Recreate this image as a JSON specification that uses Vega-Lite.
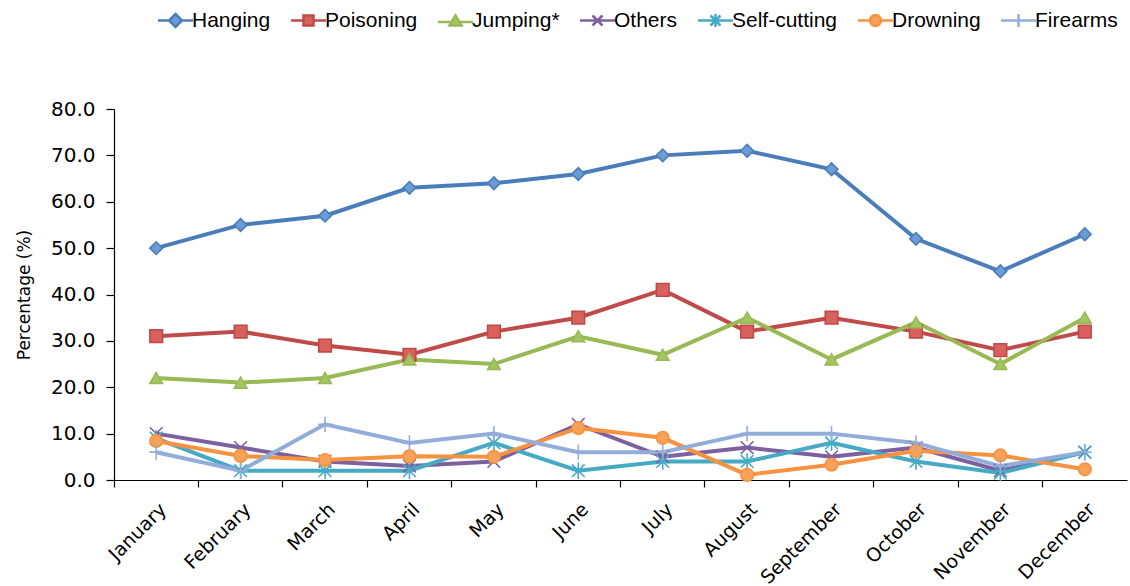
{
  "$schema": "https://vega.github.io/schema/vega-lite/v6.json",
  "width": 1013,
  "height": 371,
  "padding": {"left": 15, "top": 10, "right": 2, "bottom": 0},
  "background": "white",
  "config": {"view": {"stroke": null}, "font": "DejaVu Sans"},
  "data": {"values": [
    {"month": "January", "series": "Hanging", "value": 50},
    {"month": "February", "series": "Hanging", "value": 55},
    {"month": "March", "series": "Hanging", "value": 57},
    {"month": "April", "series": "Hanging", "value": 63},
    {"month": "May", "series": "Hanging", "value": 64},
    {"month": "June", "series": "Hanging", "value": 66},
    {"month": "July", "series": "Hanging", "value": 70},
    {"month": "August", "series": "Hanging", "value": 71},
    {"month": "September", "series": "Hanging", "value": 67},
    {"month": "October", "series": "Hanging", "value": 52},
    {"month": "November", "series": "Hanging", "value": 45},
    {"month": "December", "series": "Hanging", "value": 53},
    {"month": "January", "series": "Poisoning", "value": 31},
    {"month": "February", "series": "Poisoning", "value": 32},
    {"month": "March", "series": "Poisoning", "value": 29},
    {"month": "April", "series": "Poisoning", "value": 27},
    {"month": "May", "series": "Poisoning", "value": 32},
    {"month": "June", "series": "Poisoning", "value": 35},
    {"month": "July", "series": "Poisoning", "value": 41},
    {"month": "August", "series": "Poisoning", "value": 32},
    {"month": "September", "series": "Poisoning", "value": 35},
    {"month": "October", "series": "Poisoning", "value": 32},
    {"month": "November", "series": "Poisoning", "value": 28},
    {"month": "December", "series": "Poisoning", "value": 32},
    {"month": "January", "series": "Jumping*", "value": 22},
    {"month": "February", "series": "Jumping*", "value": 21},
    {"month": "March", "series": "Jumping*", "value": 22},
    {"month": "April", "series": "Jumping*", "value": 26},
    {"month": "May", "series": "Jumping*", "value": 25},
    {"month": "June", "series": "Jumping*", "value": 31},
    {"month": "July", "series": "Jumping*", "value": 27},
    {"month": "August", "series": "Jumping*", "value": 35},
    {"month": "September", "series": "Jumping*", "value": 26},
    {"month": "October", "series": "Jumping*", "value": 34},
    {"month": "November", "series": "Jumping*", "value": 25},
    {"month": "December", "series": "Jumping*", "value": 35},
    {"month": "January", "series": "Others", "value": 10},
    {"month": "February", "series": "Others", "value": 7},
    {"month": "March", "series": "Others", "value": 4},
    {"month": "April", "series": "Others", "value": 3},
    {"month": "May", "series": "Others", "value": 4},
    {"month": "June", "series": "Others", "value": 12},
    {"month": "July", "series": "Others", "value": 5},
    {"month": "August", "series": "Others", "value": 7},
    {"month": "September", "series": "Others", "value": 5},
    {"month": "October", "series": "Others", "value": 7},
    {"month": "November", "series": "Others", "value": 2},
    {"month": "December", "series": "Others", "value": 6},
    {"month": "January", "series": "Self-cutting", "value": 9},
    {"month": "February", "series": "Self-cutting", "value": 2},
    {"month": "March", "series": "Self-cutting", "value": 2},
    {"month": "April", "series": "Self-cutting", "value": 2},
    {"month": "May", "series": "Self-cutting", "value": 8},
    {"month": "June", "series": "Self-cutting", "value": 2},
    {"month": "July", "series": "Self-cutting", "value": 4},
    {"month": "August", "series": "Self-cutting", "value": 4},
    {"month": "September", "series": "Self-cutting", "value": 8},
    {"month": "October", "series": "Self-cutting", "value": 4},
    {"month": "November", "series": "Self-cutting", "value": 1.5},
    {"month": "December", "series": "Self-cutting", "value": 6},
    {"month": "January", "series": "Drowning", "value": 8.4},
    {"month": "February", "series": "Drowning", "value": 5.2},
    {"month": "March", "series": "Drowning", "value": 4.3},
    {"month": "April", "series": "Drowning", "value": 5.1},
    {"month": "May", "series": "Drowning", "value": 5},
    {"month": "June", "series": "Drowning", "value": 11.2},
    {"month": "July", "series": "Drowning", "value": 9.1},
    {"month": "August", "series": "Drowning", "value": 1.1},
    {"month": "September", "series": "Drowning", "value": 3.3},
    {"month": "October", "series": "Drowning", "value": 6.3},
    {"month": "November", "series": "Drowning", "value": 5.3},
    {"month": "December", "series": "Drowning", "value": 2.3},
    {"month": "January", "series": "Firearms", "value": 6},
    {"month": "February", "series": "Firearms", "value": 2},
    {"month": "March", "series": "Firearms", "value": 12},
    {"month": "April", "series": "Firearms", "value": 8},
    {"month": "May", "series": "Firearms", "value": 10},
    {"month": "June", "series": "Firearms", "value": 6},
    {"month": "July", "series": "Firearms", "value": 6},
    {"month": "August", "series": "Firearms", "value": 10},
    {"month": "September", "series": "Firearms", "value": 10},
    {"month": "October", "series": "Firearms", "value": 8},
    {"month": "November", "series": "Firearms", "value": 3},
    {"month": "December", "series": "Firearms", "value": 6}
  ]},
  "encoding": {
    "x": {
      "field": "month", "type": "nominal",
      "sort": ["January","February","March","April","May","June","July","August","September","October","November","December"],
      "scale": {"type": "band", "paddingInner": 0, "paddingOuter": 0},
      "axis": {
        "title": null, "labelAngle": -45, "labelAlign": "right", "labelBaseline": "middle",
        "labelFontSize": 19, "labelColor": "black", "labelPadding": 19,
        "bandPosition": 0, "tickColor": "black", "domainColor": "black",
        "tickSize": 7, "domainWidth": 1.2, "tickWidth": 1.2, "labelOffset": 7
      }
    },
    "y": {
      "field": "value", "type": "quantitative",
      "scale": {"domain": [0, 80], "nice": false},
      "axis": {
        "title": "Percentage (%)", "titleFontSize": 17, "titleFontWeight": "normal", "titleColor": "black",
        "titlePadding": 17, "format": ".1f", "values": [0,10,20,30,40,50,60,70,80],
        "labelFontSize": 20, "labelColor": "black", "grid": false,
        "tickColor": "black", "domainColor": "black", "tickSize": 8, "labelPadding": 11,
        "domainWidth": 1.2, "tickWidth": 1.2
      }
    }
  },
  "resolve": {
    "scale": {"shape": "independent"},
    "legend": {"stroke": "independent", "fill": "independent", "shape": "independent"}
  },
  "layer": [
    {
      "mark": {"type": "line", "strokeWidth": 4},
      "encoding": {
        "stroke": {
          "field": "series", "type": "nominal",
          "scale": {
            "domain": ["Hanging","Poisoning","Jumping*","Others","Self-cutting","Drowning","Firearms"],
            "range": ["#4A7EBB","#BE4B48","#98B954","#7D60A0","#46AAC5","#F69240","#93ADDA"]
          },
          "legend": null
        }
      }
    },
    {
      "mark": {"type": "point", "filled": true, "size": 160, "strokeWidth": 1.6, "opacity": 1},
      "encoding": {
        "stroke": {"field": "series", "type": "nominal", "legend": null},
        "fill": {
          "field": "series", "type": "nominal",
          "scale": {
            "domain": ["Hanging","Poisoning","Jumping*","Others","Self-cutting","Drowning","Firearms"],
            "range": ["#6C9BD6","#D8605D","#A3C563","#8064A2","#4BACC6","#F9A157","#95B3D7"]
          },
          "legend": null
        },
        "shape": {
          "field": "series", "type": "nominal",
          "scale": {
            "domain": ["Hanging","Poisoning","Jumping*","Others","Self-cutting","Drowning","Firearms"],
            "range": ["diamond","square","triangle-up","M-1,-1L1,1M1,-1L-1,1","M-1,-1L1,1M1,-1L-1,1M0,-1.3L0,1.3","circle","M-1.1,0L1.1,0M0,-1.2L0,1.2"]
          },
          "legend": null
        }
      }
    },
    {
      "mark": {"type": "point", "filled": true, "size": 0, "strokeWidth": 2.5, "opacity": 1},
      "encoding": {
        "stroke": {
          "field": "series", "type": "nominal",
          "legend": {
            "title": null, "orient": "none", "legendX": 39, "legendY": -99,
            "direction": "horizontal", "columns": 7, "gridAlign": "none",
            "columnPadding": 15, "labelFontSize": 21, "labelFont": "Liberation Sans", "labelColor": "black",
            "symbolSize": 100, "symbolStrokeWidth": 2.5, "symbolOffset": 12, "labelOffset": 6
          }
        },
        "fill": {"field": "series", "type": "nominal"},
        "shape": {
          "field": "series", "type": "nominal",
          "scale": {
            "domain": ["Hanging","Poisoning","Jumping*","Others","Self-cutting","Drowning","Firearms"],
            "range": ["M-3.5,0L-1.3,0M1.3,0L3.5,0M0,-1.3L1.3,0L0,1.3L-1.3,0Z","M-3.5,0L-1,0M1,0L3.5,0M-1,-1L1,-1L1,1L-1,1Z","M-3.5,0.3L-0.9,0.3M0.9,0.3L3.5,0.3M0,-1L1.2,1L-1.2,1Z","M-3.5,0L3.5,0M-1,-1L1,1M1,-1L-1,1","M-3.5,0L3.5,0M-1,-1L1,1M1,-1L-1,1M0,-1.3L0,1.3","M-3.5,0L-1.1,0M1.1,0L3.5,0M-1.1,0A1.1,1.1,0,1,1,1.1,0A1.1,1.1,0,1,1,-1.1,0Z","M-3.5,0L3.5,0M0,-1.3L0,1.3"]
          }
        }
      }
    }
  ]
}
